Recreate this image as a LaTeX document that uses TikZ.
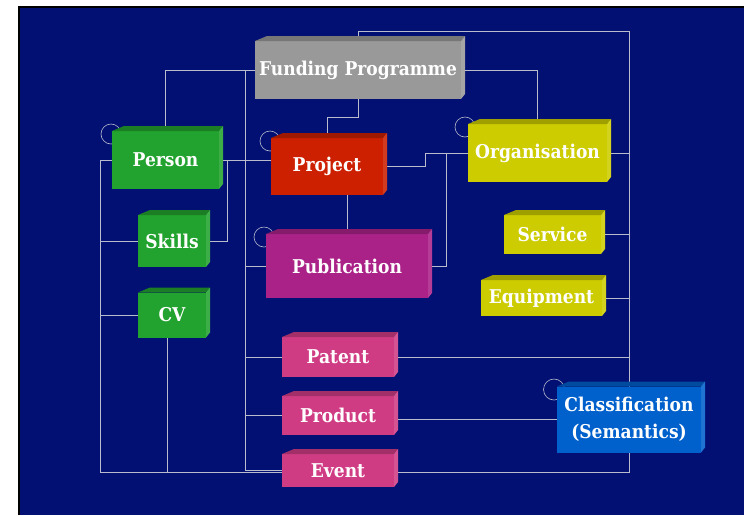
\documentclass[tikz,border=0pt]{standalone}
\usepackage{fontspec}
\setmainfont{DejaVu Serif Condensed}
\usetikzlibrary{backgrounds}

\definecolor{navy}{RGB}{2,16,116}
\definecolor{fundgray}{RGB}{153,153,153}
\definecolor{persongreen}{RGB}{34,162,46}
\definecolor{projred}{RGB}{204,32,0}
\definecolor{orgyellow}{RGB}{204,204,0}
\definecolor{pubmagenta}{RGB}{170,34,136}
\definecolor{outpink}{RGB}{208,60,132}
\definecolor{classblue}{RGB}{0,96,204}
\definecolor{linkgray}{RGB}{185,188,205}

\tikzset{
    block/.style={fill=#1, text=white, inner sep=0pt, outer sep=0pt,
        font=\fontsize{19}{27}\selectfont\bfseries, align=center},
    link/.style={draw=linkgray, line width=0.7pt},
    ring/.style={draw=linkgray, line width=0.6pt},
}

% top and side faces of a block
\newcommand{\blockfaces}[2]{%
    \fill[#2!78!black] (#1.north west) -- ++(12,-5) -- ([shift={(4,-5)}]#1.north east) -- (#1.north east) -- cycle;
    \fill[#2!88!white] (#1.north east) -- ++(4,-5) -- ([shift={(4,-5)}]#1.south east) -- (#1.south east) -- cycle;
}

\begin{document}
\begin{tikzpicture}[x=1pt, y=-1pt]
    \useasboundingbox (0,0) rectangle (744,515);

    \node[block=fundgray, minimum width=206pt, minimum height=58pt] (fund) at (358,70) {Funding Programme};
    \blockfaces{fund}{fundgray}
    \node[block=persongreen, minimum width=107pt, minimum height=58pt] (person) at (165.5,160) {Person};
    \blockfaces{person}{persongreen}
    \node[block=persongreen, minimum width=68pt, minimum height=52pt] (skills) at (172,241) {Skills};
    \blockfaces{skills}{persongreen}
    \node[block=persongreen, minimum width=68pt, minimum height=45pt] (cv) at (172,315) {CV};
    \blockfaces{cv}{persongreen}
    \node[block=projred, minimum width=112pt, minimum height=57pt] (project) at (327,166.5) {Project};
    \blockfaces{project}{projred}
    \node[block=pubmagenta, minimum width=162pt, minimum height=64pt] (pub) at (347,266) {Publication};
    \blockfaces{pub}{pubmagenta}
    \node[block=orgyellow, minimum width=139pt, minimum height=58pt] (org) at (537.5,153) {Organisation};
    \blockfaces{org}{orgyellow}
    \node[block=orgyellow, minimum width=97pt, minimum height=39pt] (service) at (552.5,234.5) {Service};
    \blockfaces{service}{orgyellow}
    \node[block=orgyellow, minimum width=121pt, minimum height=36pt] (equip) at (541.5,298) {Equipment};
    \blockfaces{equip}{orgyellow}
    \node[block=outpink, minimum width=112pt, minimum height=40pt] (patent) at (338,357) {Patent};
    \blockfaces{patent}{outpink}
    \node[block=outpink, minimum width=112pt, minimum height=39pt] (product) at (338,415.5) {Product};
    \blockfaces{product}{outpink}
    \node[block=outpink, minimum width=112pt, minimum height=33pt] (event) at (338,470.5) {Event};
    \blockfaces{event}{outpink}
    \node[block=classblue, minimum width=144pt, minimum height=66pt] (classif) at (629,419.5) {Classification\\(Semantics)};
    \blockfaces{classif}{classblue}

    \begin{scope}[on background layer]
        \fill[navy] (19,7) rectangle (744,515);
        \draw[black, line width=1.5pt] (19,515) -- (19,7) -- (744,7);

        % self relations
        \draw[ring] ([shift={(-1,3)}]person.north west) circle (10pt);
        \draw[ring] ([shift={(-1,3)}]project.north west) circle (10pt);
        \draw[ring] ([shift={(-2,3)}]pub.north west) circle (10pt);
        \draw[ring] ([shift={(-3,3)}]org.north west) circle (10pt);
        \draw[ring] ([shift={(-3,3)}]classif.north west) circle (10.5pt);

        \coordinate (fbus) at ([xshift=-10pt]fund.west);
        \coordinate (pbus) at ([xshift=-12pt]person.west);

        \draw[link] (fund.north) -- ++(0,-10) -| (classif.north);
        \draw[link] (fund.west) -| (person.north);
        \draw[link] (fund.east) -| (org.north);
        \draw[link] (fund.south) -- ++(0,18) -| (project.north);
        \draw[link] (fbus) |- (pub.west);
        \draw[link] (fbus) |- (patent.west);
        \draw[link] (fbus) |- (product.west);
        \draw[link] (fbus) |- (event.west);

        \draw[link] (person.east) -- (person.east -| project.west);
        \draw[link] (person.east) -- ++(8,0) |- (skills.east);
        \draw[link] (person.west) -- (pbus) |- (skills.west);
        \draw[link] (pbus) |- (cv.west);
        \draw[link] (pbus) |- ([yshift=-2pt]event.west);
        \draw[link] ([xshift=-5pt]cv.south) |- ([yshift=-2pt]event.west);

        \draw[link] (project.east) -- ++(42,0) |- (org.west);
        \draw[link] (pub.east) -- ++(18,0) |- (org.west);
        \draw[link] (pub.north) -- (pub.north |- project.south);

        \draw[link] (org.east) -- (org.east -| classif.north);
        \draw[link] (service.east) -- (service.east -| classif.north);
        \draw[link] (equip.east) -- (equip.east -| classif.north);
        \draw[link] (patent.east) -- (patent.east -| classif.north);
        \draw[link] (classif.west) -- (classif.west -| product.east);
        \draw[link] (classif.south) |- ([yshift=-2pt]event.east);
    \end{scope}
\end{tikzpicture}
\end{document}
